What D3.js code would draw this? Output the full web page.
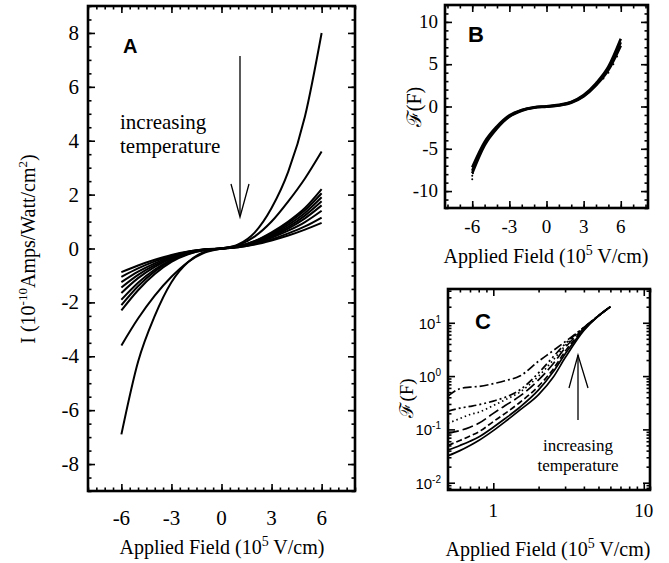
<!DOCTYPE html>
<html><head><meta charset="utf-8">
<script src="https://cdn.jsdelivr.net/npm/d3@7"></script>
<style>body{margin:0;background:#fff} svg{display:block}</style>
</head><body>
<script>
// ---------- Panel A data ----------
const fieldA = [-6,-5,-4,-3,-2,-1,0,1,2,3,4,5,6];
const curveA1 = [-6.9,-4.2,-2.5,-1.25,-0.5,-0.12,0,0.15,0.6,1.5,2.85,4.9,8.0];
const curveA2 = [-3.6,-2.6,-1.75,-1.05,-0.5,-0.15,0,0.12,0.45,1.0,1.75,2.6,3.6];
const curveA3 = [-2.3,-1.55,-0.95,-0.5,-0.22,-0.06,0,0.08,0.28,0.6,1.0,1.5,2.2];
const curveA4 = [-2.1,-1.4,-0.85,-0.45,-0.2,-0.06,0,0.08,0.27,0.56,0.95,1.42,2.05];
const curveA5 = [-1.9,-1.27,-0.78,-0.42,-0.18,-0.05,0,0.07,0.25,0.52,0.88,1.32,1.9];
const curveA6 = [-1.65,-1.1,-0.68,-0.37,-0.16,-0.05,0,0.07,0.23,0.48,0.8,1.22,1.75];
const curveA7 = [-1.45,-0.98,-0.62,-0.34,-0.15,-0.04,0,0.06,0.21,0.44,0.74,1.12,1.6];
const curveA8 = [-1.25,-0.86,-0.55,-0.3,-0.13,-0.04,0,0.06,0.2,0.4,0.66,0.98,1.4];
const curveA9 = [-1.05,-0.74,-0.48,-0.27,-0.12,-0.04,0,0.05,0.17,0.34,0.56,0.82,1.15];
const curveA10 = [-0.88,-0.63,-0.42,-0.24,-0.11,-0.03,0,0.05,0.15,0.3,0.48,0.7,0.95];
const seriesA = [curveA1,curveA2,curveA3,curveA4,curveA5,curveA6,curveA7,curveA8,curveA9,curveA10];
const ticksAx = [-6,-3,0,3,6];
const ticksAy = [-8,-6,-4,-2,0,2,4,6,8];

// ---------- Panel B data ----------
const fieldB = [-6,-5,-4,-3,-2,-1,0,1,2,3,4,5,6];
const scaledB1 = [-7.6,-4.4,-2.5,-1.15,-0.45,-0.12,0,0.15,0.5,1.25,2.6,4.5,7.6];
const scaledB2 = [-7.9,-4.6,-2.6,-1.2,-0.5,-0.15,-0.02,0.12,0.45,1.2,2.5,4.3,7.2];
const scaledB3 = [-7.2,-4.2,-2.35,-1.05,-0.4,-0.08,0.03,0.2,0.55,1.35,2.75,4.7,8.0];
const seriesB = [scaledB1,scaledB2,scaledB3];
const dotsBx = [-6,-6,-5.95,-5.9,4.6,5.0,5.4,5.7];
const dotsBy = [-8.6,-8.2,-7.9,-7.4,3.3,4.0,5.0,5.9];
const ticksBx = [-6,-3,0,3,6];
const ticksBy = [-10,-5,0,5,10];

// ---------- Panel C data ----------
const fieldC = [0.5,0.6,0.7,0.8,1.0,1.2,1.5,2.0,2.5,3.0,4.0,5.0,6.0];
const logC1 = [0.42,0.58,0.62,0.64,0.72,0.82,1.0,1.9,3.0,4.4,8.2,13.5,20];
const logC2 = [0.22,0.25,0.27,0.29,0.34,0.40,0.55,1.15,2.3,4.0,8.2,13.5,20];
const logC3 = [0.13,0.16,0.19,0.21,0.28,0.36,0.5,1.0,2.0,3.7,8.0,13.5,20];
const logC4 = [0.085,0.095,0.11,0.13,0.2,0.28,0.42,0.85,1.7,3.4,7.8,13.5,20];
const logC5 = [0.05,0.062,0.075,0.09,0.14,0.2,0.32,0.65,1.35,2.9,7.6,13.5,20];
const logC6 = [0.041,0.05,0.06,0.072,0.11,0.16,0.26,0.55,1.2,2.6,7.4,13.5,20];
const logC7 = [0.032,0.04,0.05,0.062,0.095,0.14,0.23,0.45,0.95,2.2,7.2,13.5,20];
const seriesC = [logC1,logC2,logC3,logC4,logC5,logC6,logC7];
const dashC = ["9,3,2,3","8,3,2,3,2,3","1.5,3","11,4","6,3","none","none"];
const ticksCx = [1,10];
const ticksCy = [0.01,0.1,1,10];
const expCy = ["-2","-1","0","1"];

const W = 669, H = 563;
const svg = d3.select("body").append("svg").attr("width",W).attr("height",H)
  .style("font-family","'Liberation Serif','Times New Roman',serif");

function frame(g, x, y, o){
  const [x0,x1] = x.range(), [yb,yt] = y.range();
  const sides = [
    [d3.axisBottom, x, `translate(0,${yb})`],
    [d3.axisTop, x, `translate(0,${yt})`],
    [d3.axisLeft, y, `translate(${x0},0)`],
    [d3.axisRight, y, `translate(${x1},0)`]
  ];
  sides.forEach(([fn, sc, tr], i) => {
    const isX = i < 2;
    const minor = isX ? o.xMinor : o.yMinor, major = isX ? o.xMajor : o.yMajor;
    const gm = g.append("g").attr("transform", tr).call(fn(sc).tickValues(minor).tickSize(-3.5).tickFormat(""));
    gm.select(".domain").remove();
    const gM = g.append("g").attr("transform", tr).call(fn(sc).tickValues(major).tickSize(-7).tickFormat(""));
    gM.select(".domain").remove();
  });
  g.selectAll(".tick line").attr("stroke","#000").attr("stroke-width",1.6);
  g.append("rect").attr("x",x0).attr("y",yt).attr("width",x1-x0).attr("height",yb-yt)
    .attr("fill","none").attr("stroke","#000").attr("stroke-width",2.6);
}

function xTitle(g, cx, by){
  const t = g.append("text").attr("x",cx).attr("y",by).attr("text-anchor","middle").attr("font-size",20);
  t.append("tspan").text("Applied Field (10");
  t.append("tspan").attr("dy",-8).attr("font-size",14).text("5");
  t.append("tspan").attr("dy",8).text(" V/cm)");
}

// ================= Panel A =================
const xA = d3.scaleLinear().domain([-8,8]).range([88,355]);
const yA = d3.scaleLinear().domain([-9,9]).range([491,6]);
const gA = svg.append("g");
const lineA = d3.line().x((d,i)=>xA(fieldA[i])).y(d=>yA(d)).curve(d3.curveMonotoneX);
gA.selectAll("path.cA").data(seriesA).join("path").attr("class","cA")
  .attr("d", lineA).attr("fill","none").attr("stroke","#000").attr("stroke-width",2);
frame(gA, xA, yA, {xMajor:ticksAx, xMinor:d3.range(-8,8.01,0.5), yMajor:ticksAy, yMinor:d3.range(-9,9.01,0.5)});
gA.selectAll("text.xt").data(ticksAx).join("text").attr("class","xt")
  .attr("x",d=>xA(d)).attr("y",525).attr("text-anchor","middle").attr("font-size",21).text(d=>String(d));
gA.selectAll("text.yt").data(ticksAy).join("text").attr("class","yt")
  .attr("x",79).attr("y",d=>yA(d)+7).attr("text-anchor","end").attr("font-size",21).text(d=>String(d));
xTitle(gA, 222, 554);
{
  const t = gA.append("text").attr("transform","translate(35,249) rotate(-90)").attr("text-anchor","middle").attr("font-size",20);
  t.append("tspan").text("I (10");
  t.append("tspan").attr("dy",-8).attr("font-size",13).text("-10");
  t.append("tspan").attr("dy",8).text("Amps/Watt/cm");
  t.append("tspan").attr("dy",-8).attr("font-size",13).text("2");
  t.append("tspan").attr("dy",8).text(")");
}
gA.append("text").attr("x",123).attr("y",53).attr("font-family","'Liberation Sans',Arial,sans-serif")
  .attr("font-weight","bold").attr("font-size",20).text("A");
{
  const t = gA.append("text").attr("x",120).attr("y",129).attr("font-size",21);
  t.append("tspan").attr("x",120).text("increasing");
  t.append("tspan").attr("x",120).attr("dy",23.5).text("temperature");
}
gA.append("line").attr("x1",240).attr("y1",56).attr("x2",240).attr("y2",216).attr("stroke","#000").attr("stroke-width",1.3);
gA.append("path").attr("d","M231,184 L240,217 L249,184").attr("fill","none").attr("stroke","#000").attr("stroke-width",1.3);

// ================= Panel B =================
const xB = d3.scaleLinear().domain([-8.2,8.2]).range([445,648]);
const yB = d3.scaleLinear().domain([-12,12]).range([208,5]);
const gB = svg.append("g");
const lineB = d3.line().x((d,i)=>xB(fieldB[i])).y(d=>yB(d)).curve(d3.curveMonotoneX);
gB.selectAll("path.cB").data(seriesB).join("path").attr("class","cB")
  .attr("d", lineB).attr("fill","none").attr("stroke","#000").attr("stroke-width",2.6);
gB.selectAll("circle").data(dotsBx).join("circle").attr("cx",d=>xB(d)).attr("cy",(d,i)=>yB(dotsBy[i])).attr("r",1).attr("fill","#000");
frame(gB, xB, yB, {xMajor:ticksBx, xMinor:d3.range(-8,8.01,1), yMajor:ticksBy, yMinor:d3.range(-12,12.01,1)});
gB.selectAll("text.xt").data(ticksBx).join("text").attr("class","xt")
  .attr("x",d=>xB(d)).attr("y",233).attr("text-anchor","middle").attr("font-size",19).text(d=>String(d));
gB.selectAll("text.yt").data(ticksBy).join("text").attr("class","yt")
  .attr("x",438).attr("y",d=>yB(d)+6).attr("text-anchor","end").attr("font-size",19).text(d=>String(d));
xTitle(gB, 546, 263);
gB.append("text").attr("transform","translate(421,107) rotate(-90)").attr("text-anchor","middle").attr("font-size",20).text("ℱ(F)");
gB.append("text").attr("x",468).attr("y",42).attr("font-family","'Liberation Sans',Arial,sans-serif")
  .attr("font-weight","bold").attr("font-size",22).text("B");

// ================= Panel C =================
const xC = d3.scaleLog().domain([0.5,11]).range([448,650]);
const yC = d3.scaleLog().domain([0.0073,43]).range([490,289]);
const gC = svg.append("g");
const lineC = d3.line().x((d,i)=>xC(fieldC[i])).y(d=>yC(d)).curve(d3.curveMonotoneX);
gC.selectAll("path.cC").data(seriesC).join("path").attr("class","cC")
  .attr("d", lineC).attr("fill","none").attr("stroke","#000").attr("stroke-width",1.7)
  .attr("stroke-dasharray",(d,i)=>dashC[i]);
const cxMinor = [0.6,0.7,0.8,0.9,2,3,4,5,6,7,8,9,11];
const cyMinor = [];
[0.001,0.01,0.1,1,10].forEach(b=>{for(let k=2;k<=9;k++){const v=b*k; if(v>0.0073&&v<43) cyMinor.push(v);}});
frame(gC, xC, yC, {xMajor:ticksCx, xMinor:cxMinor, yMajor:ticksCy, yMinor:cyMinor});
gC.selectAll("text.xt").data(ticksCx).join("text").attr("class","xt")
  .attr("x",d=>xC(d)).attr("y",517).attr("text-anchor","middle").attr("font-size",19).text(d=>String(d));
gC.selectAll("text.yt").data(ticksCy).join("text").attr("class","yt")
  .attr("x",441).attr("y",d=>yC(d)+6).attr("text-anchor","end")
  .attr("font-family","'Liberation Sans',Arial,sans-serif").attr("font-size",15)
  .each(function(d,i){
    const t = d3.select(this);
    t.append("tspan").text("10");
    t.append("tspan").attr("dy",-6).attr("font-size",10).text(expCy[i]);
  });
xTitle(gC, 548, 556);
gC.append("text").attr("transform","translate(413,398) rotate(-90)").attr("text-anchor","middle").attr("font-size",19).text("ℱ(F)");
gC.append("text").attr("x",475).attr("y",329).attr("font-family","'Liberation Sans',Arial,sans-serif")
  .attr("font-weight","bold").attr("font-size",22).text("C");
{
  const t = gC.append("text").attr("x",578).attr("y",451).attr("text-anchor","middle").attr("font-size",17);
  t.append("tspan").attr("x",578).text("increasing");
  t.append("tspan").attr("x",578).attr("dy",19.5).text("temperature");
}
gC.append("line").attr("x1",578).attr("y1",420).attr("x2",578).attr("y2",355).attr("stroke","#000").attr("stroke-width",1.3);
gC.append("path").attr("d","M569,388 L578,355 L588,388").attr("fill","none").attr("stroke","#000").attr("stroke-width",1.3);
</script>
</body></html>
